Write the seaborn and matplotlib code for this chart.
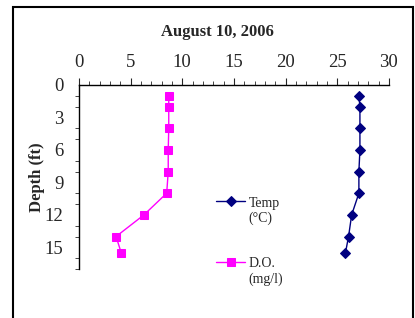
import matplotlib
matplotlib.use("Agg")
import matplotlib.pyplot as plt
import seaborn as sns
import pandas as pd
import numpy as np
from matplotlib.patches import Rectangle
from matplotlib.lines import Line2D
from matplotlib.legend_handler import HandlerLine2D
from matplotlib.ticker import MultipleLocator

# depth profile values
depth = [1, 2, 4, 6, 8, 10, 12, 14, 15.5]
temp = [27.1, 27.2, 27.2, 27.2, 27.1, 27.1, 26.4, 26.1, 25.8]
do = [8.7, 8.7, 8.7, 8.65, 8.65, 8.5, 6.3, 3.6, 4.1]


# legend handle sits level with the first text line, like the original
class RaisedLine(HandlerLine2D):
    def create_artists(self, *args, **kwargs):
        arts = super().create_artists(*args, **kwargs)
        for a in arts:
            a.set_ydata(np.asarray(a.get_ydata()) + 7.0)
        return arts


sns.set_style("white")
plt.rcParams['font.family'] = ['Liberation Serif', 'DejaVu Serif']

fig = plt.figure(figsize=(4.15, 3.18), dpi=100)
ax = fig.add_axes([0.190, 0.154, 0.747, 0.579])

df = pd.DataFrame({'depth': depth, 'temp': temp, 'do': do})
sns.lineplot(data=df, x='temp', y='depth', sort=False, estimator=None, ax=ax,
             color='#000080', marker='D', markersize=5, markeredgecolor='#000080',
             linewidth=1, label='Temp\n(°C)')
sns.lineplot(data=df, x='do', y='depth', sort=False, estimator=None, ax=ax,
             color='#FF00FF', marker='s', markersize=6, markeredgecolor='#FF00FF',
             linewidth=1, label='D.O.\n(mg/l)')

ax.set_xlim(0, 30)
ax.set_ylim(17, 0)
ax.xaxis.tick_top()
ax.xaxis.set_major_locator(MultipleLocator(5))
ax.xaxis.set_minor_locator(MultipleLocator(1))
ax.yaxis.set_major_locator(MultipleLocator(3))
ax.yaxis.set_minor_locator(MultipleLocator(1))
ax.tick_params(axis='x', which='major', direction='out', length=5, width=0.8, labelsize=13.5, pad=5)
ax.tick_params(axis='x', which='minor', direction='out', length=3, width=0.6, top=True)
ax.tick_params(axis='y', which='major', direction='out', length=5, width=0.8, labelsize=13.5, pad=6)
ax.tick_params(axis='y', which='minor', direction='out', length=3, width=0.6, left=True)
ax.set_xlabel('')
ax.set_ylabel('Depth (ft)', fontsize=12, fontweight='bold')
ax.yaxis.set_label_coords(-0.11, 0.5)
for s in ['right', 'bottom']:
    ax.spines[s].set_visible(False)
for s in ['top', 'left']:
    ax.spines[s].set_color('black')
    ax.spines[s].set_linewidth(1)

fig.text(217 / 415, 1 - 32 / 318, 'August 10, 2006', fontsize=12, fontweight='bold',
         ha='center', va='center')

ax.legend(loc='upper left', bbox_to_anchor=(0.507, 0.399), bbox_transform=fig.transFigure,
          frameon=False, fontsize=10, handlelength=2.1, labelspacing=2.3,
          handletextpad=0.25, borderaxespad=0, handler_map={Line2D: RaisedLine()})

fig.patches.append(Rectangle((13 / 415, -0.05), 400 / 415, 1 - 7 / 318 + 0.05,
                             transform=fig.transFigure, fill=False,
                             edgecolor='black', linewidth=1.5))

fig.savefig('out.png', dpi=100, facecolor='white')
